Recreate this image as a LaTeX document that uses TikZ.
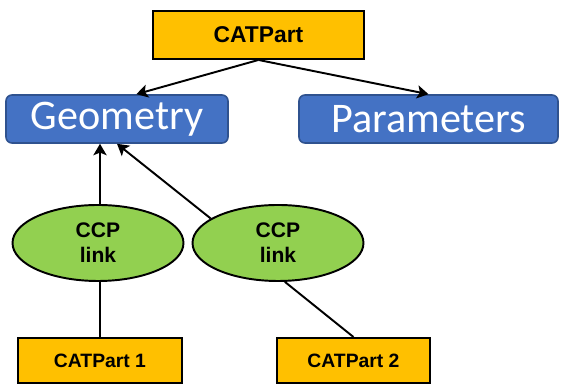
\documentclass[tikz,border=0pt]{standalone}
\usepackage{fontspec}
\setmainfont{Liberation Sans}
\newfontfamily\calibri{Carlito}
\usetikzlibrary{shapes.geometric,arrows.meta}
\definecolor{partgold}{HTML}{FFC000}
\definecolor{groupblue}{HTML}{4472C4}
\definecolor{groupedge}{HTML}{2F528F}
\definecolor{linkgreen}{HTML}{92D050}
\begin{document}
\begin{tikzpicture}[
    part/.style={draw,line width=1.1pt,fill=partgold,inner sep=0pt,font=\bfseries},
    group/.style={draw=groupedge,line width=0.9pt,fill=groupblue,rounded corners=3.4pt,
      inner sep=0pt,text=white,font=\calibri\fontsize{24}{28}\selectfont},
    link/.style={ellipse,draw,line width=1.1pt,fill=linkgreen,inner sep=0pt,align=center,
      minimum width=3.42cm,minimum height=1.52cm,font=\fontsize{12}{14.2}\selectfont\bfseries}]
      \useasboundingbox (0,0) rectangle (11.22,7.74);
      \draw
        (5.17, 7.04) node[part,minimum width=4.22cm,minimum height=0.96cm,font=\fontsize{13}{15}\selectfont\bfseries] (0){CATPart}
        (2.34, 5.36) node[group,minimum width=4.44cm,minimum height=0.96cm] (1){Geometry}
        (8.57, 5.36) node[group,minimum width=5.18cm,minimum height=0.96cm] (2){Parameters}
        (1.96, 2.88) node[link] (3){CCP\\link}
        (5.56, 2.88) node[link] (4){CCP\\link}
        (2.00, 0.53) node[part,minimum width=3.28cm,minimum height=0.90cm,font=\fontsize{11}{13}\selectfont\bfseries] (5){CATPart 1}
        (7.07, 0.53) node[part,minimum width=3.06cm,minimum height=0.90cm,font=\fontsize{11}{13}\selectfont\bfseries] (6){CATPart 2};
      \begin{scope}[line width=1.1pt,-{Stealth[length=6.5pt,width=7.5pt,inset=1.5pt]}]
        \draw (0.south) to (1.52);
        \draw (0.south) to (2.north);
        \draw (5.north |- 3.north) to (5.north |- 1.south);
        \draw (4.160) to (1.south);
      \end{scope}
      \begin{scope}[line width=1.1pt]
        \draw (5.north) to (5.north |- 3.south);
        \draw (6.north) to (4.-80);
      \end{scope}
    \end{tikzpicture}
\end{document}
